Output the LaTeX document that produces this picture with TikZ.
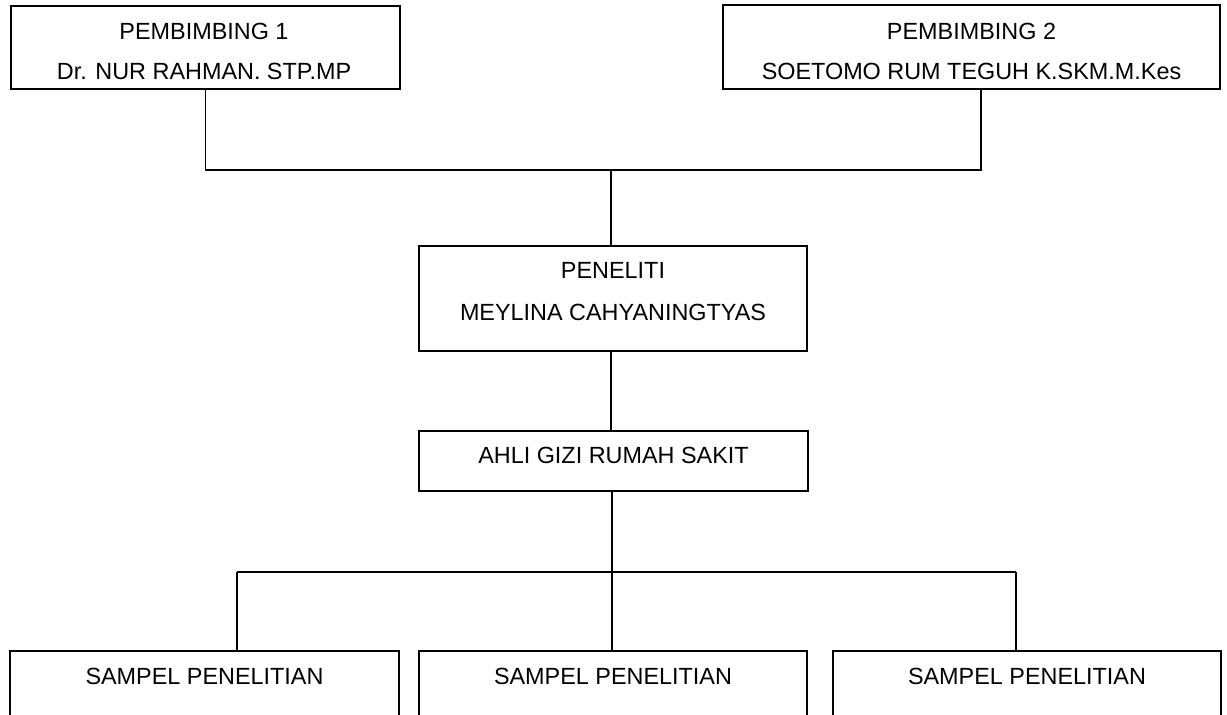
\documentclass[tikz,border=0pt]{standalone}
\usepackage{fontspec}
\setmainfont{Liberation Sans}
\begin{document}
\begin{tikzpicture}[x=0.5pt,y=-0.5pt,
  box/.style={draw=black, line width=0.75pt, inner sep=0pt, outer sep=0pt},
  txt/.style={anchor=base, inner sep=0pt, font=\fontsize{11.7}{14}\selectfont},
  conn/.style={draw=black, line width=0.75pt}]
\useasboundingbox (0,0) rectangle (1227,715);
\clip (0,0) rectangle (1227,715);
\fill[white] (0,0) rectangle (1227,715);
% boxes
\node[box, minimum width=194.5pt, minimum height=41.5pt] (p1) at (205.5,47.5) {};
\node[box, minimum width=248.5pt, minimum height=42pt] (p2) at (971.5,47) {};
\node[box, minimum width=194pt, minimum height=52.5pt] (pen) at (613,298.5) {};
\node[box, minimum width=194.5pt, minimum height=30pt] (ahli) at (613.5,461) {};
\node[box, minimum width=194.5pt, minimum height=54pt] (s1) at (204.5,705) {};
\node[box, minimum width=194pt, minimum height=54pt] (s2) at (613,705) {};
\node[box, minimum width=194pt, minimum height=54pt] (s3) at (1027,705) {};
% texts
\node[txt] (p1a) at (204,40) {PEMBIMBING 1};
\node[txt] (p1b) at (204,80) {Dr. NUR RAHMAN. STP.MP};
\node[txt] (p2a) at (971.5,39.5) {PEMBIMBING 2};
\node[txt] (p2b) at (971.5,80) {SOETOMO RUM TEGUH K.SKM.M.Kes};
\node[txt] (pena) at (613,279) {PENELITI};
\node[txt] (penb) at (613,320.7) {MEYLINA CAHYANINGTYAS};
\node[txt] (ahlit) at (613.5,464) {AHLI GIZI RUMAH SAKIT};
\node[txt] (s1t) at (204.5,685) {SAMPEL PENELITIAN};
\node[txt] (s2t) at (613,685) {SAMPEL PENELITIAN};
\node[txt] (s3t) at (1027,685) {SAMPEL PENELITIAN};
% connectors
\coordinate (j1) at (611,170);
\coordinate (c2) at (981,89);
\coordinate (b1) at (237,572);
\coordinate (b3) at (1016,572);
\draw[conn] (p1.south) |- (j1);
\draw[conn] (c2) |- (j1);
\draw[conn] (j1) -- (j1 |- pen.north);
\draw[conn] (j1 |- pen.south) -- (j1 |- ahli.north);
\draw[conn] ([xshift=-0.75pt]ahli.south) -- ([xshift=-0.75pt]ahli.south |- s2.north);
\draw[conn] (b1) -- (b3);
\draw[conn] (b1) -- (b1 |- s1.north);
\draw[conn] (b3) -- (b3 |- s3.north);
\end{tikzpicture}
\end{document}
